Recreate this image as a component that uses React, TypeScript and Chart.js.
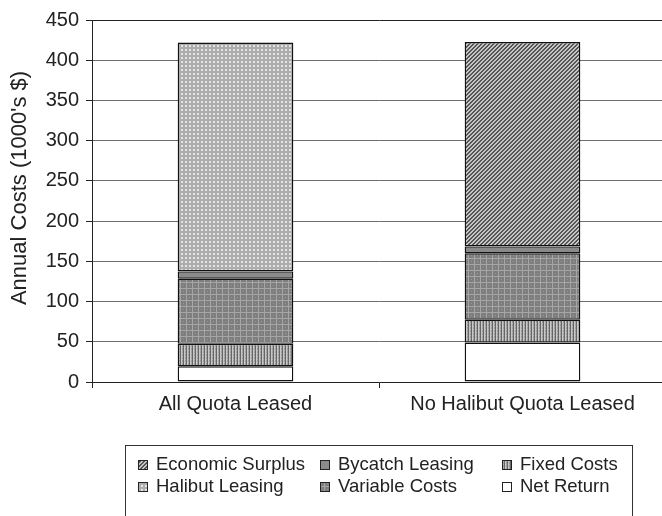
import React, { useEffect, useRef } from 'react';
import { Chart, registerables } from 'chart.js';

Chart.register(...registerables);

const categories = ['All Quota Leased', 'No Halibut Quota Leased'];
const netReturn = [19.5, 49];
const fixedCosts = [28, 28.5];
const variableCosts = [81, 82.5];
const bycatchLeasing = [9, 8.5];
const halibutLeasing = [284.5, null];
const economicSurplus = [null, 254];
const yMin = 0;
const yMax = 450;
const yStep = 50;
const yTitle = "Annual Costs (1000's $)";

const FONT = '"Liberation Sans", Arial, sans-serif';
const INK = '#222222';

function makePattern(w: number, h: number, draw: (ctx: CanvasRenderingContext2D) => void) {
  const c = document.createElement('canvas');
  c.width = w;
  c.height = h;
  const ctx = c.getContext('2d') as CanvasRenderingContext2D;
  draw(ctx);
  const tmp = document.createElement('canvas').getContext('2d') as CanvasRenderingContext2D;
  return tmp.createPattern(c, 'repeat') as CanvasPattern;
}

function buildFills() {
  const halibut = makePattern(4, 4, (ctx) => {
    ctx.fillStyle = '#adadad';
    ctx.fillRect(0, 0, 4, 4);
    ctx.fillStyle = '#e4e4e4';
    ctx.fillRect(1, 1, 2, 2);
  });
  const variable = makePattern(6, 6, (ctx) => {
    ctx.fillStyle = '#7e7e7e';
    ctx.fillRect(0, 0, 6, 6);
    ctx.fillStyle = '#a6a6a6';
    ctx.fillRect(0, 0, 6, 1);
    ctx.fillRect(0, 0, 1, 6);
    ctx.fillStyle = '#969696';
    ctx.fillRect(3, 3, 1, 1);
  });
  const fixed = makePattern(3, 3, (ctx) => {
    ctx.fillStyle = '#9c9c9c';
    ctx.fillRect(0, 0, 3, 3);
    ctx.fillStyle = '#666666';
    ctx.fillRect(0, 0, 1, 3);
    ctx.fillStyle = '#c8c8c8';
    ctx.fillRect(1, 0, 1, 3);
    ctx.fillStyle = '#b4b4b4';
    ctx.fillRect(2, 2, 1, 1);
  });
  const surplus = makePattern(4, 4, (ctx) => {
    for (let x = 0; x < 4; x++) {
      for (let y = 0; y < 4; y++) {
        ctx.fillStyle = (x + y) % 4 < 2 ? '#555555' : '#c6c6c6';
        ctx.fillRect(x, y, 1, 1);
      }
    }
  });
  return { halibut, variable, fixed, surplus };
}

export default function App() {
  const ref = useRef<HTMLCanvasElement | null>(null);

  useEffect(() => {
    const canvas = ref.current;
    if (!canvas) return;
    const f = buildFills();

    const base = {
      borderColor: '#111111',
      borderWidth: 1.4,
      borderSkipped: false as const,
      barPercentage: 0.403,
      categoryPercentage: 1,
      stack: 's',
    };

    const datasets = [
      { ...base, label: 'Net Return', data: netReturn, backgroundColor: '#ffffff' },
      { ...base, label: 'Fixed Costs', data: fixedCosts, backgroundColor: f.fixed },
      { ...base, label: 'Variable Costs', data: variableCosts, backgroundColor: f.variable },
      { ...base, label: 'Bycatch Leasing', data: bycatchLeasing, backgroundColor: '#8a8a8a' },
      { ...base, label: 'Halibut Leasing', data: halibutLeasing, backgroundColor: f.halibut },
      { ...base, label: 'Economic Surplus', data: economicSurplus, backgroundColor: f.surplus },
    ];

    const customPlugin = {
      id: 'custom',
      afterDraw(chart: any) {
        const ctx: CanvasRenderingContext2D = chart.ctx;
        ctx.save();
        ctx.translate(20, 188);
        ctx.rotate(-Math.PI / 2);
        ctx.font = `22px ${FONT}`;
        ctx.fillStyle = INK;
        ctx.textAlign = 'center';
        ctx.textBaseline = 'middle';
        ctx.fillText(yTitle, 0, 0);
        ctx.restore();

        ctx.save();
        ctx.strokeStyle = '#333333';
        ctx.lineWidth = 1;
        ctx.strokeRect(125.5, 445.5, 507, 100);
        const ds = chart.data.datasets.slice().reverse();
        const colX = [138, 320, 502];
        const rowY = [465, 487];
        ctx.font = `18.5px ${FONT}`;
        ctx.textBaseline = 'middle';
        ctx.textAlign = 'left';
        ds.forEach((d: any, i: number) => {
          const col = Math.floor(i / 2);
          const row = i % 2;
          const x = colX[col];
          const y = rowY[row];
          ctx.fillStyle = d.backgroundColor;
          ctx.fillRect(x, y - 5, 10, 10);
          ctx.strokeStyle = '#222222';
          ctx.strokeRect(x + 0.5, y - 4.5, 9, 9);
          ctx.fillStyle = INK;
          ctx.fillText(d.label, x + 18, y);
        });
        ctx.restore();
      },
    };

    const chart = new Chart(canvas, {
      type: 'bar',
      data: { labels: categories, datasets },
      options: {
        responsive: false,
        animation: false,
        devicePixelRatio: 1,
        layout: { padding: { left: 0, top: 20, right: 14, bottom: 94 } },
        plugins: {
          legend: { display: false },
          tooltip: { enabled: false },
        },
        scales: {
          x: {
            stacked: true,
            offset: true,
            afterFit: (s: any) => { s.height = 40; },
            grid: {
              display: true,
              drawOnChartArea: false,
              drawTicks: true,
              tickLength: 6,
              tickColor: INK,
              offset: true,
            },
            border: { display: true, color: INK, width: 1 },
            ticks: { color: INK, padding: 4, font: { family: FONT, size: 20 }, maxRotation: 0 },
          },
          y: {
            stacked: true,
            min: yMin,
            max: yMax,
            afterFit: (s: any) => { s.width = 92; },
            grid: {
              color: (c: any) => (c.tick && c.tick.value === yMax ? '#222222' : '#6e6e6e'),
              lineWidth: 1,
              drawTicks: true,
              tickLength: 6,
              tickColor: INK,
            },
            border: { display: true, color: INK, width: 1 },
            ticks: { stepSize: yStep, color: INK, padding: 7, font: { family: FONT, size: 20 } },
          },
        },
      },
      plugins: [customPlugin],
    });

    return () => chart.destroy();
  }, []);

  return (
    <div style={{ position: 'absolute', left: 0, top: 0, width: 662, height: 516, overflow: 'hidden', background: '#fff' }}>
      <canvas ref={ref} width={680} height={516} style={{ display: 'block', width: 680, height: 516 }} />
    </div>
  );
}
